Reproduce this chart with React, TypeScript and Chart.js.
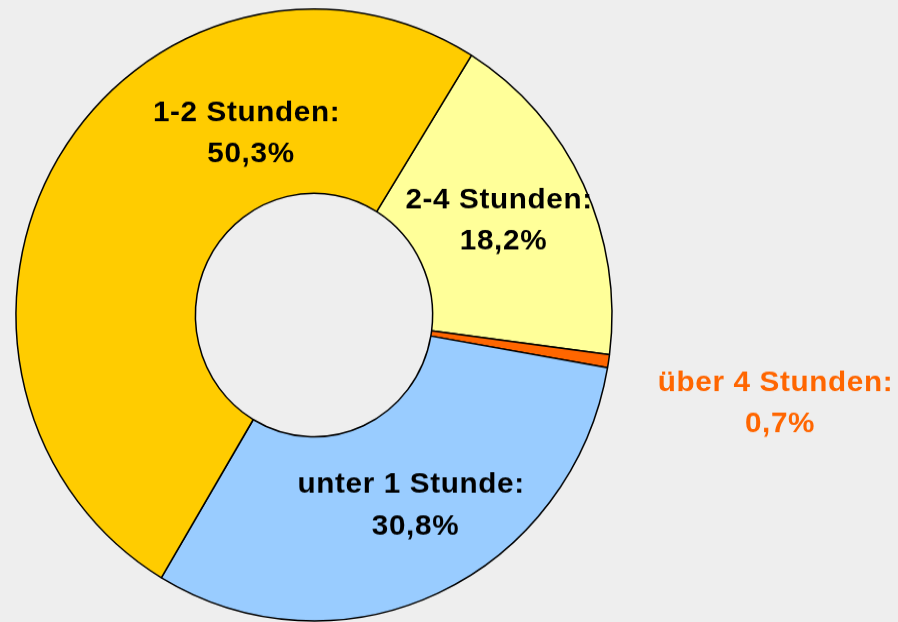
import React, { useEffect, useRef } from "react";
import { Chart, registerables } from "chart.js";

Chart.register(...registerables);

// ---- data ----
const categories = ["2-4 Stunden", "über 4 Stunden", "unter 1 Stunde", "1-2 Stunden"];
const shares = [18.2, 0.7, 30.8, 50.3];
const sliceColors = ["#FFFF99", "#FF6600", "#99CCFF", "#FFCC00"];
const labelColors = ["#000000", "#FF6600", "#000000", "#000000"];
// label anchors (centre x, baseline of first line) in canvas pixels
const labelAnchors = [
  [503.5, 203],
  [780, 380.6],
  [415.5, 480.3],
  [251, 117.9],
];

const CANVAS_W = 898;
const CANVAS_H = 606; // drawn height; displayed at 622 (slight vertical stretch like the original)
const DISPLAY_H = 622;

const fmt = (v: number) => v.toFixed(1).replace(".", ",") + "%";

const labelPlugin = {
  id: "sliceLabels",
  afterDraw(chart: any) {
    const ctx = chart.ctx;
    ctx.save();
    ctx.font = 'bold 28px "Liberation Sans", Arial, sans-serif';
    ctx.textAlign = "center";
    ctx.textBaseline = "alphabetic";
    try {
      ctx.letterSpacing = "0.6px";
    } catch (e) {}
    categories.forEach((cat, i) => {
      const [x, y] = labelAnchors[i];
      ctx.fillStyle = labelColors[i];
      const lines = [cat + ": ", fmt(shares[i])];
      lines.forEach((ln, j) => {
        ctx.save();
        ctx.translate(x, y + j * 40.2);
        ctx.scale(1.06, 1);
        ctx.fillText(ln, 0, 0);
        ctx.restore();
      });
    });
    ctx.restore();
  },
};

export default function App() {
  const ref = useRef<HTMLCanvasElement | null>(null);

  useEffect(() => {
    document.body.style.margin = "0";
    const canvas = ref.current!;
    const chart = new Chart(canvas, {
      type: "doughnut",
      data: {
        labels: categories,
        datasets: [
          {
            data: shares,
            backgroundColor: sliceColors,
            borderColor: "#000000",
            borderWidth: 1.5,
            hoverBorderWidth: 1.5,
            hoverOffset: 0,
          },
        ],
      },
      options: {
        responsive: false,
        animation: false,
        devicePixelRatio: 1,
        events: [],
        rotation: 31.9,
        circumference: 360,
        cutout: "39.8%",
        layout: {
          padding: { left: 15.25, top: 8.15, right: 285.25, bottom: 0.35 },
        },
        plugins: {
          legend: { display: false },
          tooltip: { enabled: false },
        },
      },
      plugins: [labelPlugin],
    });
    return () => chart.destroy();
  }, []);

  return (
    <div
      style={{
        position: "fixed",
        left: 0,
        top: 0,
        width: CANVAS_W,
        height: DISPLAY_H,
        background: "#EEEEEE",
        overflow: "hidden",
      }}
    >
      <canvas
        ref={ref}
        width={CANVAS_W}
        height={CANVAS_H}
        style={{ width: CANVAS_W + "px", height: DISPLAY_H + "px", display: "block" }}
      />
    </div>
  );
}
